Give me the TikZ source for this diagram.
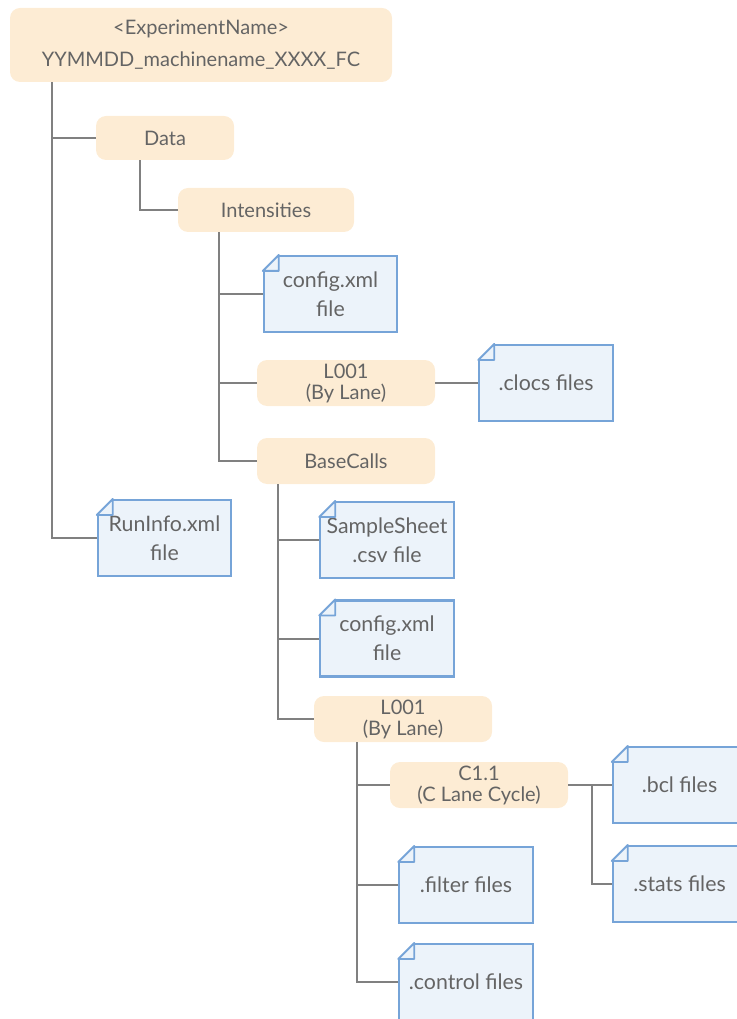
\documentclass[tikz,border=0pt]{standalone}
\usepackage{fontspec}
\setmainfont{Lato}
\usetikzlibrary{calc}
\definecolor{dirfill}{RGB}{253,236,212}
\definecolor{filefill}{RGB}{236,243,250}
\definecolor{fileline}{RGB}{118,164,216}
\definecolor{linkgray}{RGB}{128,128,128}
\definecolor{txtgray}{RGB}{100,100,100}
\begin{document}
\begin{tikzpicture}[x=0.75pt, y=-0.75pt, font=\fontsize{15}{15.75}\selectfont, text=txtgray,
  dir/.style={fill=dirfill, rounded corners=7.5pt, minimum width=133.5pt, minimum height=34.5pt, align=center, inner sep=2pt},
  file/.style={draw=fileline, fill=filefill, line width=1.6pt, minimum width=100pt, minimum height=57pt, align=center, inner sep=2pt, font=\fontsize{16}{21.75}\selectfont},
  fold/.style={draw=fileline, line width=1.4pt, line join=round},
  conn/.style={draw=linkgray, line width=1.5pt}]
\useasboundingbox (0,0) rectangle (736,1019);
\node[dir, minimum width=286.5pt, minimum height=55.5pt, font=\fontsize{15}{24}\selectfont] (root) at (201,45) {<ExperimentName>\\YYMMDD\_machinename\_XXXX\_FC};
\node[dir, minimum width=103.5pt, minimum height=33pt] (data) at (165,138) {Data};
\node[dir, minimum width=132pt, minimum height=33pt] (intens) at (266,210) {Intensities};
\node[file] (cfga) at (330.5,294) {config.xml\\file};
\node[dir] (lanea) at (346,383) {L001\\(By Lane)};
\node[file] (clocs) at (546,383) {.clocs files};
\node[dir] (basecalls) at (346,461) {BaseCalls};
\node[file] (runinfo) at (164.5,538) {RunInfo.xml\\file};
\node[file] (sheet) at (387,540) {SampleSheet\\.csv file};
\node[file] (cfgb) at (387,638.5) {config.xml\\file};
\node[dir] (laneb) at (403,719) {L001\\(By Lane)};
\node[dir] (cycle) at (479,785) {C1.1\\(C Lane Cycle)};
\node[file] (bcl) at (679.5,785) {.bcl files};
\node[file] (stats) at (679.5,884) {.stats files};
\node[file] (filter) at (466,885) {.filter files};
\node[file] (control) at (466,982) {.control files};
% dog-ear corners of the files
\foreach \f in {cfga,clocs,runinfo,sheet,cfgb,bcl,stats,filter,control}{
  \fill[white] ($(\f.north west)+(-1.2pt,1.2pt)$) -- ($(\f.north west)+(12pt,1.2pt)$) -- ($(\f.north west)+(12pt,0pt)$) -- ($(\f.north west)+(0pt,-12pt)$) -- ($(\f.north west)+(-1.2pt,-12pt)$) -- cycle;
  \draw[fold] ($(\f.north west)+(0pt,-12pt)$) -- ($(\f.north west)+(12pt,0pt)$) -- ($(\f.north west)+(12pt,-12pt)$) -- cycle;
}
% tree lines
\draw[conn] ([xshift=31.5pt]root.south west) |- (data.west) ([xshift=31.5pt]root.south west) |- (runinfo.west);
\draw[conn] ([xshift=33pt]data.south west) |- (intens.west);
\draw[conn] ([xshift=30.75pt]intens.south west) |- (cfga.west) ([xshift=30.75pt]intens.south west) |- (lanea.west) ([xshift=30.75pt]intens.south west) |- (basecalls.west);
\draw[conn] (lanea.east) -- (clocs.west);
\draw[conn] ([xshift=15.75pt]basecalls.south west) |- (sheet.west) ([xshift=15.75pt]basecalls.south west) |- (cfgb.west) ([xshift=15.75pt]basecalls.south west) |- (laneb.west);
\draw[conn] ([xshift=32.25pt]laneb.south west) |- (cycle.west) ([xshift=32.25pt]laneb.south west) |- (filter.west) ([xshift=32.25pt]laneb.south west) |- (control.west);
\draw[conn] (cycle.east) -- ++(18pt,0) coordinate (cj) |- (stats.west) (cj) |- (bcl.west);
\end{tikzpicture}
\end{document}
